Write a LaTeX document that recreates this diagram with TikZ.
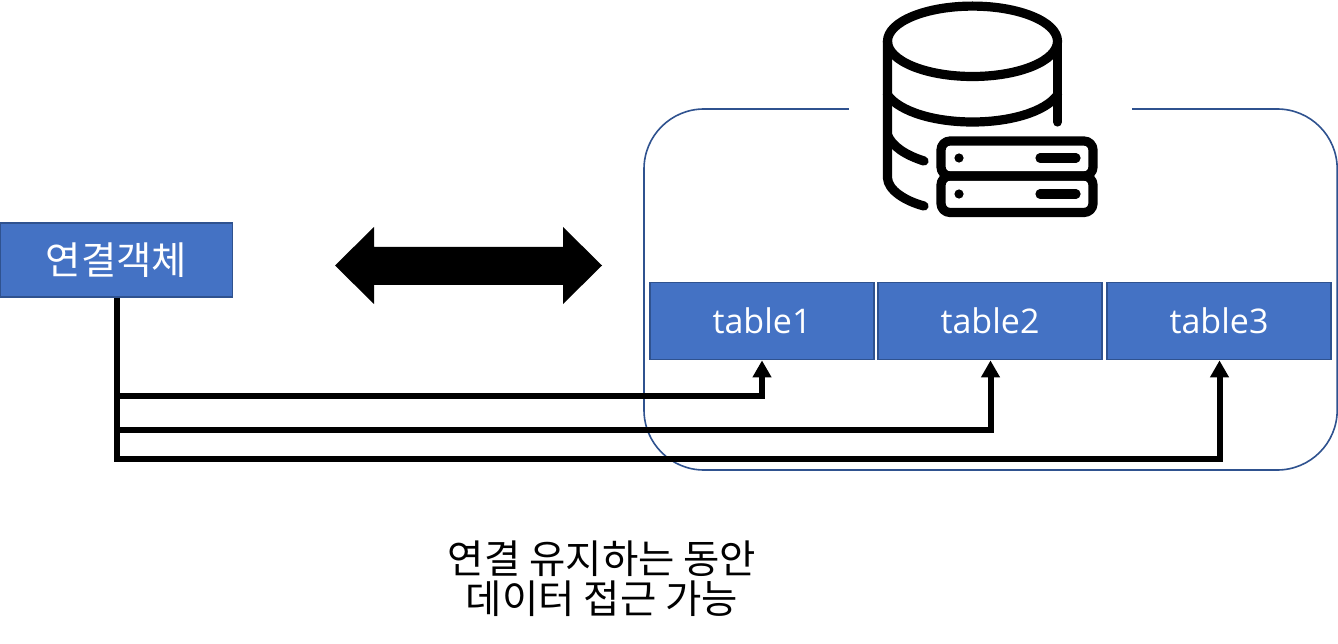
\documentclass[tikz,border=0pt]{standalone}
\usepackage{fontspec}
\setmainfont{Open Sans}
\newfontfamily\krfont{Noto Sans CJK KR}
\usetikzlibrary{arrows.meta}
\definecolor{boxfill}{HTML}{4472C4}
\definecolor{boxline}{HTML}{2F528F}
\tikzset{
  x=1pt,y=-1pt,
  bluebox/.style={draw=boxline,line width=1.8pt,fill=boxfill,text=white,minimum height=77pt,minimum width=224pt,inner sep=0pt,font=\fontsize{34}{38}\selectfont},
  conn/.style={draw=black,line width=6pt,-{Triangle[width=18pt,length=17pt]}},
  icon/.style={draw=black,line width=9.2pt,line cap=round,line join=round},
  caption/.style={font=\krfont\fontsize{39.5}{40}\selectfont,align=center,inner sep=0pt},
}
\begin{document}
\begin{tikzpicture}
\useasboundingbox (0,0) rectangle (1338,644);
\fill[white] (0,0) rectangle (1338,644);
% container
\draw[boxline,line width=1.6pt,rounded corners=60pt] (644,109) rectangle (1337.2,470);
\fill[white] (849,100) rectangle (1132,120);
% boxes
\node[bluebox,minimum width=232pt,minimum height=74pt,font=\krfont\fontsize{38.4}{40}\selectfont] (obj) at (116.5,260) {\raisebox{-1pt}{연결객체}};
\node[bluebox] (t1) at (762,321) {\raisebox{-3pt}{table1}};
\node[bluebox] (t2) at (990,321) {\raisebox{-3pt}{table2}};
\node[bluebox] (t3) at (1219,321) {\raisebox{-3pt}{table3}};
% connectors
\coordinate (c1) at (762,396);
\coordinate (c2) at (990.5,430);
\coordinate (c3) at (1219.5,459);
\draw[conn] (obj.south) |- (c1) -- (c1 |- t1.south);
\draw[conn] (obj.south) |- (c2) -- (c2 |- t2.south);
\draw[conn] (obj.south) |- (c3) -- (c3 |- t3.south);
% double arrow
\fill[black] (335,265.5) -- (374,227) -- (374,247) -- (563,247) -- (563,227) -- (602,265.5) -- (563,304) -- (563,285) -- (374,285) -- (374,304) -- cycle;
% database icon
\draw[icon] (972.5,41.3) ellipse [x radius=85,y radius=35.2];
\draw[icon] (887.5,95) .. controls (900,112) and (935,122) .. (972.5,122) .. controls (1010,122) and (1045,112) .. (1057.5,95);
\draw[icon] (1057.5,41) -- (1057.5,122);
\draw[icon] (887.5,41) -- (887.5,178) .. controls (888,190) and (905,201) .. (924,206);
\draw[icon] (887.5,135) .. controls (892,146) and (905,155) .. (924,161);
\draw[icon,rounded corners=9pt] (941,141) rectangle (1093,176);
\draw[icon,rounded corners=9pt] (941,176) rectangle (1093,212.5);
\fill (959,158) circle (4.6);
\fill (959,194) circle (4.6);
\draw[icon] (1040,158) -- (1076,158);
\draw[icon] (1040,194) -- (1076,194);
% caption
\node[caption] (cap) at (602,579) {연결 유지하는 동안\\데이터 접근 가능};
\end{tikzpicture}
\end{document}
